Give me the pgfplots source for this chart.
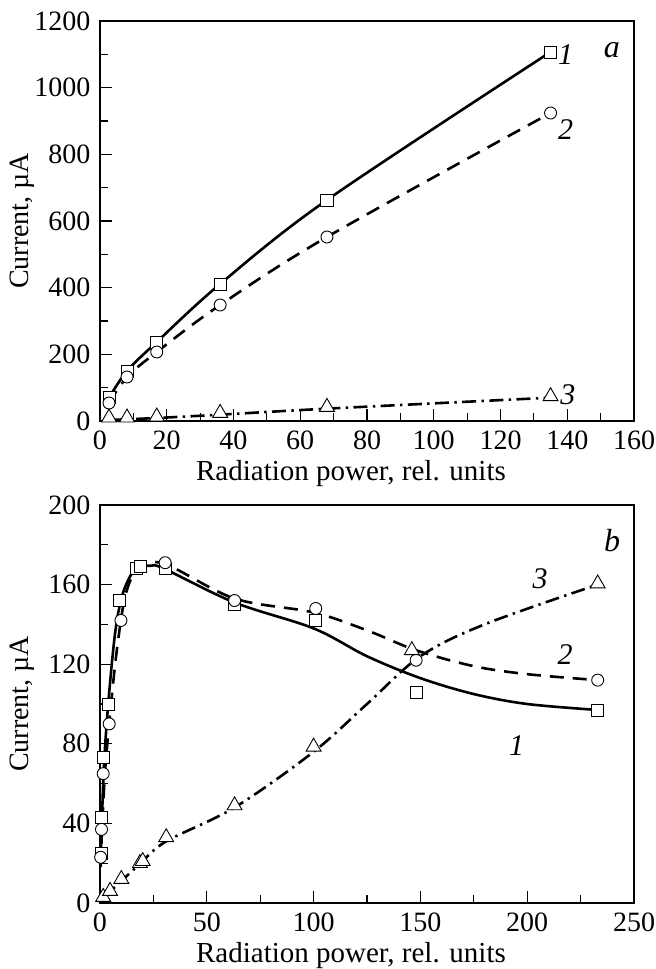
\documentclass[border=0pt]{standalone}
\usepackage{fontspec}
\setmainfont{Liberation Serif}
\usepackage{pgfplots}
\pgfplotsset{compat=1.18}
\begin{document}
\fontsize{14}{16}\selectfont
\begin{tikzpicture}
\pgfplotsset{
  mystyle/.style={
    scale only axis, width=267pt,
    axis line style={line width=1pt},
    tick style={line width=0.6pt, black},
    tick pos=left, tick align=inside,
    major tick length=6pt, minor tick length=4pt,
    minor x tick num=1, minor y tick num=1,
    /pgf/number format/assume math mode=true,
    /pgf/number format/1000 sep={},
    ticklabel style={font=\fontsize{14}{16}\selectfont},
    label style={font=\fontsize{14.5}{16}\selectfont},
    xlabel={Radiation power, rel. units},
    ylabel={Current, µA},
    xlabel style={yshift=4pt, xshift=-8pt},
    every axis y label/.style={at={(axis description cs:-0.146,0.5)}, rotate=90, anchor=center},
  },
  curve/.style={line width=1.3pt, black, smooth, tension=0.55},
  mk/.style={only marks, black, line width=0.45pt, mark size=3pt, mark options={fill=white, solid}},
  tri/.style={mk, mark=triangle*, mark size=4.3pt},
  dsh/.style={dash pattern=on 7pt off 4.5pt},
  dd/.style={dash pattern=on 7pt off 2.7pt on 1.2pt off 2.7pt},
}
% ---------- panel a ----------
\begin{axis}[mystyle, at={(0,0)}, anchor=south west, height=200pt,
  xmin=0, xmax=160, ymin=0, ymax=1200,
  xtick={0,20,...,160}, ytick={0,200,...,1200}]
\addplot[curve] coordinates {(2.7,70) (8.1,150) (17,237) (36,411) (68,663) (135,1107)};
\addplot[curve, dsh] coordinates {(2.7,54) (8.1,132) (17,207) (36,348) (68,552) (135,924)};
\addplot[curve, dd, smooth=false] coordinates {(2.7,3) (17,9) (36,19) (68,37) (135,70)};
\addplot[mk, mark=square*] coordinates {(2.7,70) (8.1,150) (17,237) (36,411) (68,663) (135,1107)};
\addplot[mk, mark=*] coordinates {(2.7,54) (8.1,132) (17,207) (36,348) (68,552) (135,924)};
\addplot[tri] coordinates {(2.7,10) (8.1,10) (17,13) (36,24) (68,42) (135,74)};
\node[font=\itshape\fontsize{15}{17}\selectfont] at (axis cs:139.5,1098) {1};
\node[font=\itshape\fontsize{15}{17}\selectfont] at (axis cs:139.5,873) {2};
\node[font=\itshape\fontsize{15}{17}\selectfont] at (axis cs:140.2,78) {3};
\node[font=\itshape\fontsize{16}{18}\selectfont] at (axis cs:153.4,1113) {a};
\end{axis}
% ---------- panel b ----------
\begin{axis}[mystyle, at={(0,-241pt)}, anchor=south west, height=199pt,
  xmin=0, xmax=250, ymin=0, ymax=200,
  xtick={0,50,...,250}, ytick={0,40,...,200}]
\addplot[curve] coordinates {(0.3,20) (1,45) (2,72) (4,102) (7,135) (10,153) (14,164) (18,168.5) (24,169.5) (30,168) (63,151) (100,138) (125,124) (150,113) (175,105) (200,100) (233,97)};
\addplot[curve, dsh] coordinates {(0.3,18) (1,38) (2.5,68) (5,98) (8,128) (12,155) (18,168) (30,170.5) (63,153) (100,146) (125,137) (148,127) (175,119) (200,115) (233,112)};
\addplot[curve, dd] coordinates {(0,0) (5,6) (10,11) (19,20) (31,31) (63,48) (100,76) (125,100) (150,124) (180,140) (233,160)};
\addplot[mk, mark=square*] coordinates {(0.5,25) (0.8,43) (1.8,73) (3.8,100) (9,152) (17,168) (19,169) (30.5,168) (63,150) (101,142) (148,106) (233,97)};
\addplot[mk, mark=*] coordinates {(0.3,23) (0.7,37) (1.5,65) (4.3,90) (9.8,142) (30.5,171) (63,152) (101,148) (148,122) (233,112)};
\addplot[tri] coordinates {(1.5,3) (4.7,6) (10,12) (18.7,20) (20,21) (31,33) (63,49) (100,78.5) (146,127) (233,160.5)};
\node[font=\itshape\fontsize{15}{17}\selectfont] at (axis cs:206,163) {3};
\node[font=\itshape\fontsize{15}{17}\selectfont] at (axis cs:217.7,124.6) {2};
\node[font=\itshape\fontsize{15}{17}\selectfont] at (axis cs:195,79) {1};
\node[font=\itshape\fontsize{16}{18}\selectfont] at (axis cs:239.7,182) {b};
\end{axis}
\pgfresetboundingbox
\path[use as bounding box] (-50pt,-274pt) rectangle (278pt,210.5pt);
\end{tikzpicture}
\end{document}
